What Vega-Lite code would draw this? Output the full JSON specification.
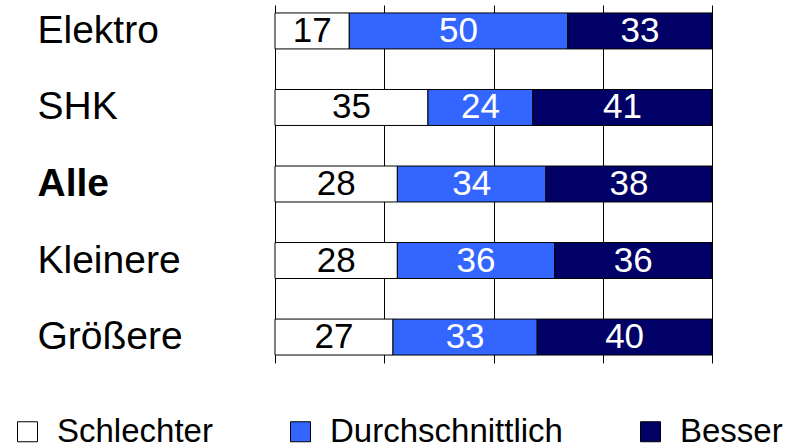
{
  "$schema": "https://vega.github.io/schema/vega-lite/v6.json",
  "autosize": "none",
  "width": 437,
  "height": 358,
  "padding": {"left": 275, "top": 5, "right": 79, "bottom": 85},
  "background": "white",
  "config": {
    "view": {"stroke": null},
    "font": "Arial"
  },
  "data": {
    "values": [
      {"gruppe": "Elektro", "kategorie": "Schlechter", "wert": 17},
      {"gruppe": "Elektro", "kategorie": "Durchschnittlich", "wert": 50},
      {"gruppe": "Elektro", "kategorie": "Besser", "wert": 33},
      {"gruppe": "SHK", "kategorie": "Schlechter", "wert": 35},
      {"gruppe": "SHK", "kategorie": "Durchschnittlich", "wert": 24},
      {"gruppe": "SHK", "kategorie": "Besser", "wert": 41},
      {"gruppe": "Alle", "kategorie": "Schlechter", "wert": 28},
      {"gruppe": "Alle", "kategorie": "Durchschnittlich", "wert": 34},
      {"gruppe": "Alle", "kategorie": "Besser", "wert": 38},
      {"gruppe": "Kleinere", "kategorie": "Schlechter", "wert": 28},
      {"gruppe": "Kleinere", "kategorie": "Durchschnittlich", "wert": 36},
      {"gruppe": "Kleinere", "kategorie": "Besser", "wert": 36},
      {"gruppe": "Größere", "kategorie": "Schlechter", "wert": 27},
      {"gruppe": "Größere", "kategorie": "Durchschnittlich", "wert": 33},
      {"gruppe": "Größere", "kategorie": "Besser", "wert": 40}
    ]
  },
  "encoding": {
    "y": {
      "field": "gruppe",
      "type": "nominal",
      "sort": ["Elektro", "SHK", "Alle", "Kleinere", "Größere"],
      "scale": {"paddingInner": 0.53, "paddingOuter": 0.104},
      "axis": {
        "title": null,
        "domain": false,
        "ticks": false,
        "tickSize": 0,
        "grid": false,
        "labelAlign": "left",
        "labelBaseline": "middle",
        "labelPadding": 238,
        "labelFontSize": 39,
        "labelColor": "black",
        "labelFont": "Arial",
        "labelFontWeight": {"condition": {"test": "datum.value === 'Alle'", "value": "bold"}, "value": "normal"}
      }
    },
    "order": {"field": "kategorie", "sort": "descending"}
  },
  "layer": [
    {
      "mark": {"type": "bar", "stroke": "black", "strokeWidth": 1},
      "encoding": {
        "x": {
          "field": "wert",
          "type": "quantitative",
          "stack": "zero",
          "scale": {"domain": [0, 100], "nice": false},
          "axis": {
            "title": null,
            "orient": "top",
            "values": [0, 25, 50, 75, 100],
            "labels": false,
            "ticks": false,
            "domain": false,
            "grid": true,
            "gridColor": "black",
            "gridOpacity": 1,
            "gridWidth": 1
          }
        },
        "fill": {
          "field": "kategorie",
          "type": "nominal",
          "scale": {
            "domain": ["Schlechter", "Durchschnittlich", "Besser"],
            "range": ["#ffffff", "#3366ff", "#000066"]
          },
          "legend": {
            "title": null,
            "orient": "none",
            "legendX": -264,
            "legendY": 410,
            "direction": "horizontal",
            "padding": 0,
            "columnPadding": 71,
            "symbolType": "square",
            "symbolSize": 400,
            "symbolStrokeColor": "black",
            "symbolStrokeWidth": 1,
            "symbolOpacity": 1,
            "labelOffset": 13,
            "labelFontSize": 33,
            "labelFont": "Arial",
            "labelColor": "black",
            "labelLimit": 400
          }
        }
      }
    },
    {
      "mark": {"type": "text", "fontSize": 35, "font": "Arial", "baseline": "middle", "align": "center"},
      "encoding": {
        "x": {"field": "wert", "type": "quantitative", "stack": "zero", "bandPosition": 0.5},
        "detail": {"field": "kategorie", "type": "nominal"},
        "text": {"field": "wert", "type": "quantitative"},
        "color": {
          "condition": {"test": "datum.kategorie === 'Schlechter'", "value": "black"},
          "value": "white"
        }
      }
    }
  ]
}
